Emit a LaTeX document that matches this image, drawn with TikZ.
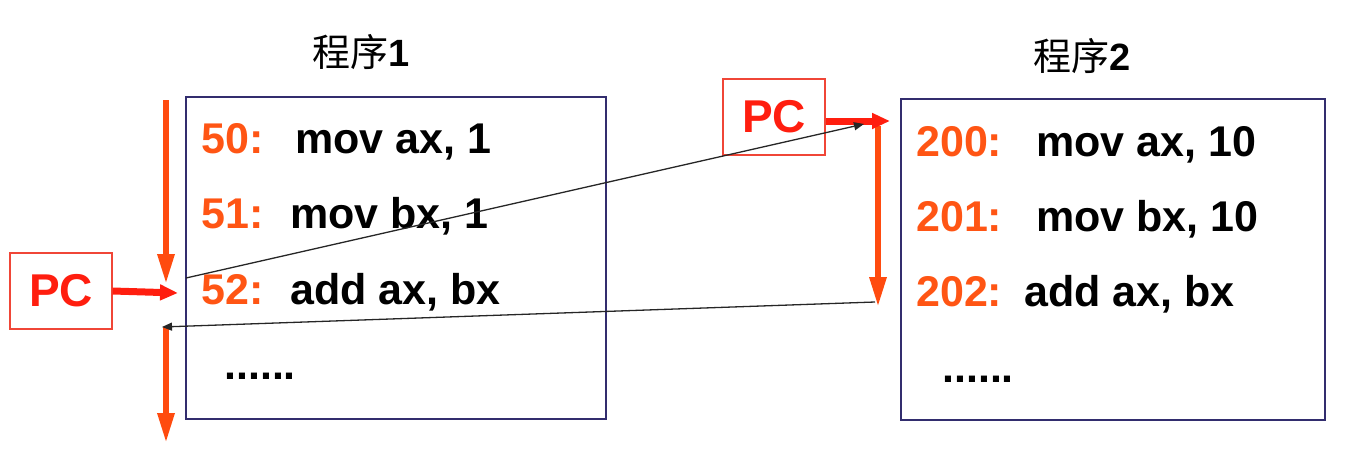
\documentclass[tikz,border=0pt]{standalone}
\usepackage{fontspec}
\setmainfont{Liberation Sans}
\newfontfamily\cjk{Noto Sans CJK SC}
\usetikzlibrary{arrows.meta}
\definecolor{numc}{RGB}{255,85,20}
\definecolor{arrc}{RGB}{255,75,15}
\definecolor{pcred}{RGB}{255,30,15}
\definecolor{pcbox}{RGB}{240,70,55}
\definecolor{navy}{RGB}{50,45,110}
\tikzset{
  numtxt/.style={anchor=base west, inner sep=0pt, text=numc, font=\fontsize{43}{48}\selectfont\bfseries},
  codetxt/.style={anchor=base west, inner sep=0pt, text=black, font=\fontsize{43}{48}\selectfont\bfseries},
  titletxt/.style={anchor=base, inner sep=0pt, font=\fontsize{38}{44}\selectfont},
  pcnode/.style={draw=pcbox, line width=1.2pt, minimum width=102pt, minimum height=76pt, inner sep=0pt, text=pcred, font=\fontsize{46}{52}\selectfont\bfseries},
  progbox/.style={draw=navy, line width=1.5pt},
  thickarr/.style={draw=arrc, line width=6pt, -{Triangle[length=30pt,width=16pt]}},
  pcarr/.style={draw=pcred, line width=7pt, -{Triangle[length=18pt,width=15pt]}},
  thinarr/.style={draw=black!85, line width=1.3pt, -{Triangle[length=10pt,width=8pt]}}
}
\begin{document}
\begin{tikzpicture}[x=1pt,y=-1pt]
\useasboundingbox (0,0) rectangle (1348,458);
% program boxes
\draw[progbox] (186,97) rectangle (606,419);
\draw[progbox] (901,99) rectangle (1325,420);
% titles
\node[titletxt] (t1) at (361,66) {{\cjk 程序}\textbf{1}};
\node[titletxt] (t2) at (1082,70) {{\cjk 程序}\textbf{2}};
% program 1 code
\node[numtxt] (n50) at (201,153) {50:};
\node[codetxt] (c50) at (295,153) {mov ax, 1};
\node[numtxt] (n51) at (201,228) {51:};
\node[codetxt] (c51) at (290,228) {mov bx, 1};
\node[numtxt] (n52) at (201,304) {52:};
\node[codetxt] (c52) at (290,304) {add ax, bx};
\node[codetxt] (d1) at (224,379) {......};
% program 2 code
\node[numtxt] (n200) at (916,156) {200:};
\node[codetxt] (c200) at (1036,156) {mov ax, 10};
\node[numtxt] (n201) at (916,231) {201:};
\node[codetxt] (c201) at (1036,231) {mov bx, 10};
\node[numtxt] (n202) at (916,306) {202:};
\node[codetxt] (c202) at (1024,306) {add ax, bx};
\node[codetxt] (d2) at (942,382) {......};
% PC boxes
\node[pcnode] (pc1) at (61,291) {PC};
\node[pcnode] (pc2) at (774,117) {PC};
% coordinates
\coordinate (a1s) at (166,100);
\coordinate (a1e) at (166,284);
\coordinate (a2s) at (166,327);
\coordinate (a2e) at (166,443);
\coordinate (a3s) at (878,126);
\coordinate (a3e) at (878,307);
\coordinate (p1e) at (178,293);
\coordinate (p2e) at (890,121);
\coordinate (j1s) at (186,278);
\coordinate (j1e) at (864,124);
\coordinate (j2s) at (875,302);
\coordinate (j2e) at (162,327);
% thick orange arrows
\draw[thickarr] (a1s) -- (a1e);
\draw[thickarr] (a2s) -- (a2e);
\draw[thickarr] (a3s) -- (a3e);
% PC arrows
\draw[pcarr] (pc1.east) -- (p1e);
\draw[pcarr] (pc2.east |- p2e) -- (p2e);
% jump arrows
\draw[thinarr] (j1s) -- (j1e);
\draw[thinarr] (j2s) -- (j2e);
\end{tikzpicture}
\end{document}
